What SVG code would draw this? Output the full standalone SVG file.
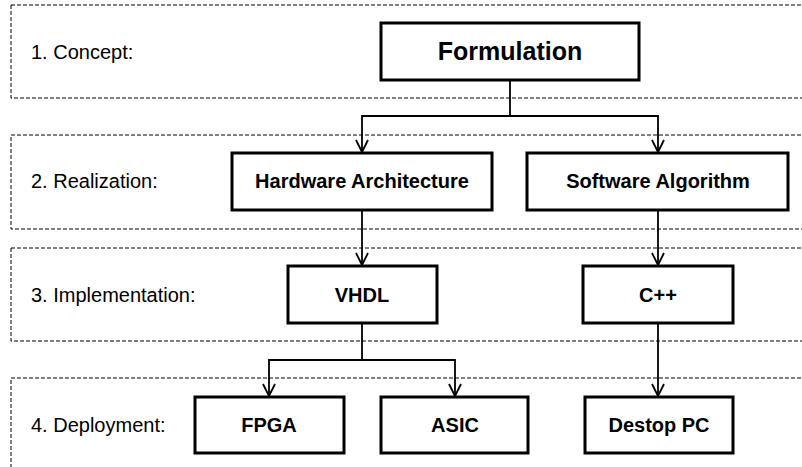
<svg xmlns="http://www.w3.org/2000/svg" width="802" height="467" viewBox="0 0 802 467">
  <style>
    .band { fill: none; stroke: #000; stroke-width: 1; stroke-dasharray: 4 2; }
    .box { fill: #fff; stroke: #000; stroke-width: 3; }
    .lbl { font-family: "Liberation Sans", Arial, sans-serif; font-size: 20px; fill: #000; }
    .txt { font-family: "Liberation Sans", Arial, sans-serif; font-size: 20px; font-weight: bold; fill: #000; text-anchor: middle; }
    .big { font-size: 25px; }
    .wire { fill: none; stroke: #000; stroke-width: 1.8; }
  </style>
  <defs>
    <marker id="arrow" viewBox="0 0 14 14" refX="13" refY="7" markerWidth="14" markerHeight="14" markerUnits="userSpaceOnUse" orient="auto">
      <path d="M1,1 L13,7 L1,13" fill="none" stroke="#000" stroke-width="1.8"/>
    </marker>
  </defs>
  <rect width="802" height="467" fill="#fff"/>

  <!-- stage bands -->
  <g id="stages">
    <rect class="band" x="11" y="5" width="800" height="93"/>
    <rect class="band" x="11" y="135" width="800" height="94"/>
    <rect class="band" x="11" y="248" width="800" height="93"/>
    <rect class="band" x="11" y="378" width="800" height="100"/>
    <text class="lbl" x="31" y="59">1. Concept:</text>
    <text class="lbl" x="31" y="188">2. Realization:</text>
    <text class="lbl" x="31" y="302">3. Implementation:</text>
    <text class="lbl" x="31" y="432">4. Deployment:</text>
  </g>

  <!-- connectors -->
  <g id="connectors">
    <path class="wire" d="M510,80 V116 H362 V152" marker-end="url(#arrow)"/>
    <path class="wire" d="M510,116 H658 V152" marker-end="url(#arrow)"/>
    <path class="wire" d="M362,210 V265" marker-end="url(#arrow)"/>
    <path class="wire" d="M658,210 V265" marker-end="url(#arrow)"/>
    <path class="wire" d="M362,323 V360 H269 V396" marker-end="url(#arrow)"/>
    <path class="wire" d="M362,360 H455 V396" marker-end="url(#arrow)"/>
    <path class="wire" d="M658,323 V396" marker-end="url(#arrow)"/>
  </g>

  <g id="formulation">
    <rect class="box" x="381" y="23" width="258" height="57"/>
    <text class="txt big" x="510" y="60">Formulation</text>
  </g>
  <g id="hardware">
    <rect class="box" x="232" y="153" width="260" height="57"/>
    <text class="txt" x="362" y="188">Hardware Architecture</text>
  </g>
  <g id="software">
    <rect class="box" x="527" y="153" width="261" height="57"/>
    <text class="txt" x="658" y="188">Software Algorithm</text>
  </g>
  <g id="vhdl">
    <rect class="box" x="288" y="266" width="149" height="57"/>
    <text class="txt" x="362" y="302">VHDL</text>
  </g>
  <g id="cpp">
    <rect class="box" x="583" y="266" width="150" height="57"/>
    <text class="txt" x="658" y="302">C++</text>
  </g>
  <g id="fpga">
    <rect class="box" x="195" y="397" width="149" height="56"/>
    <text class="txt" x="269" y="432">FPGA</text>
  </g>
  <g id="asic">
    <rect class="box" x="381" y="397" width="147" height="56"/>
    <text class="txt" x="455" y="432">ASIC</text>
  </g>
  <g id="desktop">
    <rect class="box" x="585" y="397" width="148" height="56"/>
    <text class="txt" x="659" y="432">Destop PC</text>
  </g>
</svg>
